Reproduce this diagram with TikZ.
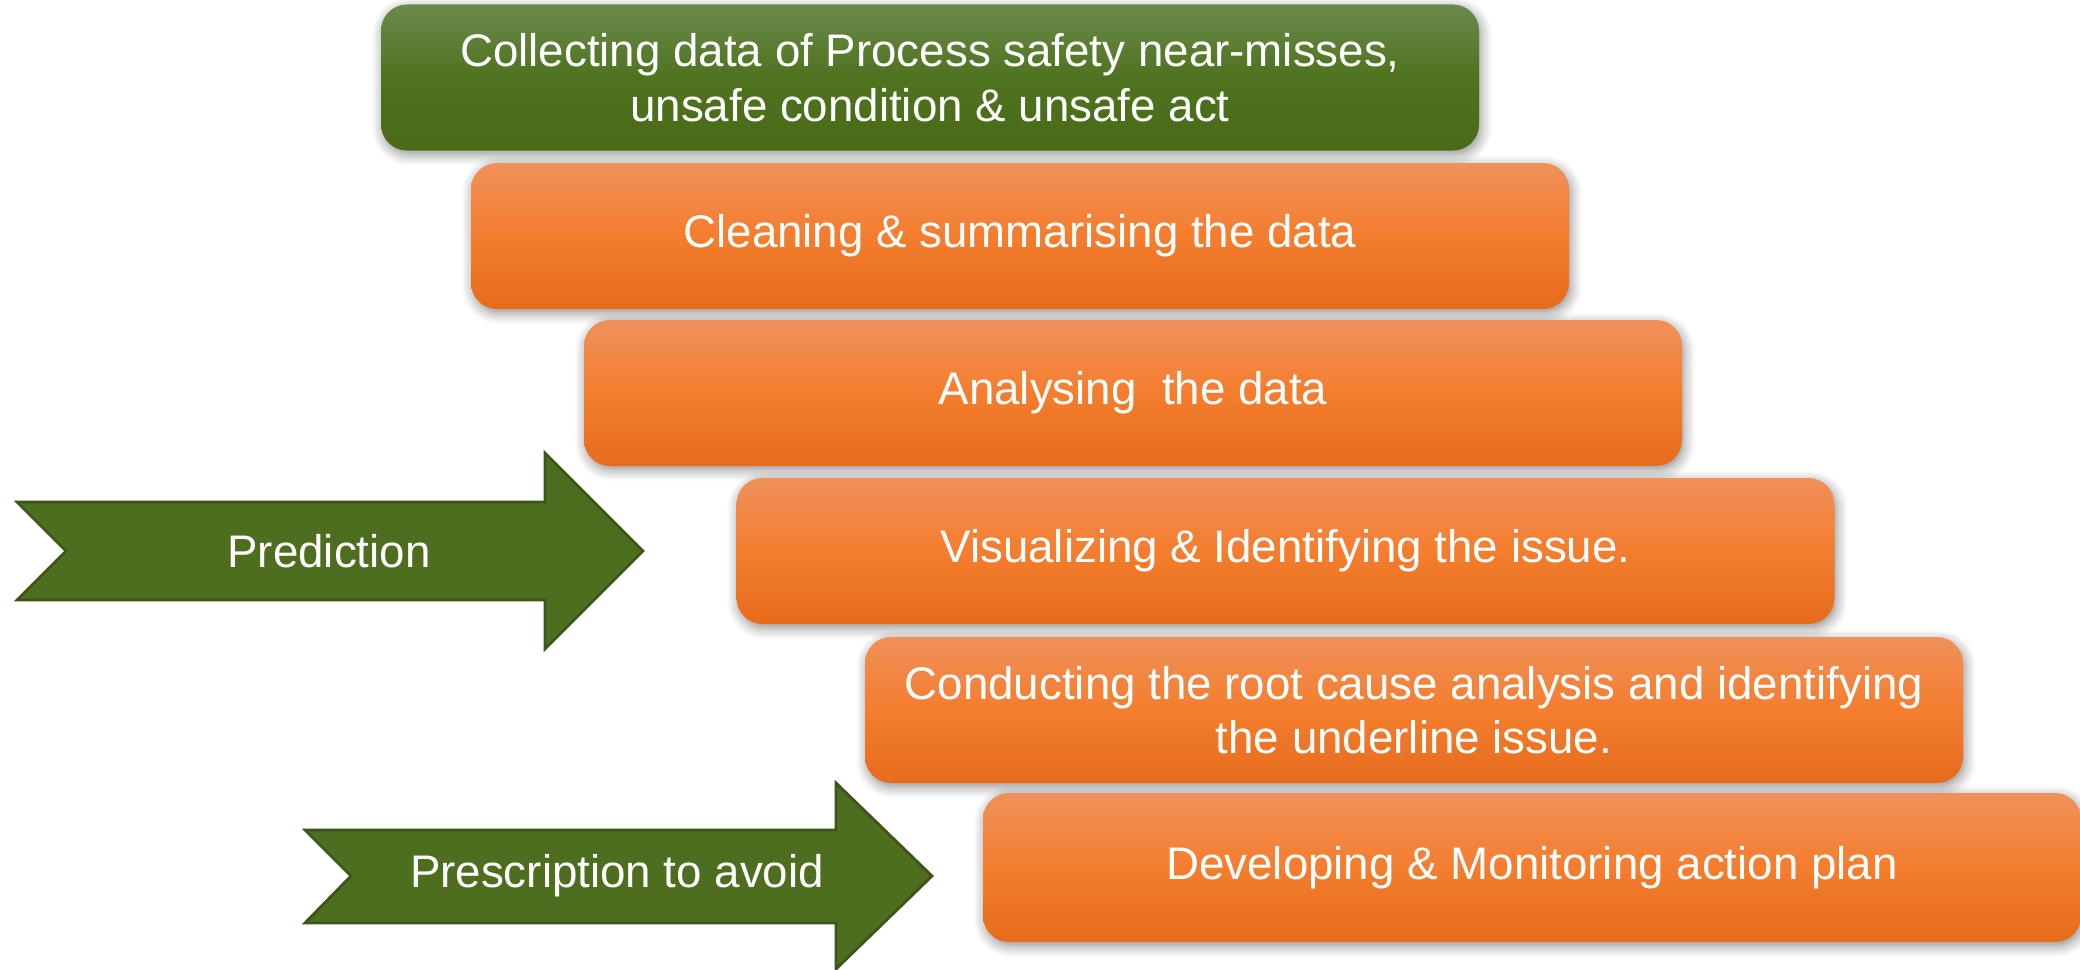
\documentclass[tikz,border=0pt]{standalone}
\usepackage{fontspec}
\setmainfont{Liberation Sans}
\usetikzlibrary{shadows.blur}
\definecolor{orTop}{HTML}{F0915A}
\definecolor{orMid}{HTML}{F47D2E}
\definecolor{orBot}{HTML}{E66C1C}
\definecolor{grTop}{HTML}{6B8A4B}
\definecolor{grMid}{HTML}{4E731F}
\definecolor{grBot}{HTML}{4A6A17}
\definecolor{arrGreen}{HTML}{4E6E1F}
\definecolor{arrEdge}{HTML}{3C5518}

\begin{document}
\begin{tikzpicture}[
    stepbox/.style={rounded corners=0.26cm, minimum width=10.98cm, minimum height=1.46cm,
      align=center, text=white, font=\fontsize{13}{15.5}\selectfont,
      blur shadow={shadow xshift=0.02cm, shadow yshift=-0.04cm, shadow blur steps=6,
        shadow blur radius=0.6ex, shadow opacity=45},
      top color=orTop, bottom color=orBot, middle color=orMid},
    firstbox/.style={stepbox, top color=grTop, bottom color=grBot, middle color=grMid},
    arrowlabel/.style={text=white, font=\fontsize{13}{15.5}\selectfont},
    bigarrow/.style={fill=arrGreen, draw=arrEdge, line width=0.8pt}
  ]
      \useasboundingbox (0,0) rectangle (20.8,-9.7);

      % the steps
      \node[firstbox] (collect) at (9.30,-0.775) {Collecting data of Process safety near-misses,\\unsafe condition \& unsafe act};
      \node[stepbox] (clean) at (10.20,-2.36) {Cleaning \& summarising the data};
      \node[stepbox] (analyse) at (11.33,-3.93) {Analysing~ the data};
      \node[stepbox] (visual) at (12.855,-5.51) {Visualizing \& Identifying the issue.};
      \node[stepbox] (rootcause) at (14.14,-7.10) {Conducting the root cause analysis and identifying\\the underline issue.};
      \node[stepbox, minimum height=1.49cm] (action) at (15.32,-8.675) {Developing \& Monitoring action plan};

      % the two arrows
      \draw[bigarrow] (0.17,-5.02) -- (5.45,-5.02) -- (5.45,-4.53) -- (6.43,-5.51)
        -- (5.45,-6.49) -- (5.45,-6.00) -- (0.17,-6.00) -- (0.66,-5.51) -- cycle;
      \node[arrowlabel] (predict) at (3.29,-5.51) {Prediction};

      \draw[bigarrow] (3.05,-8.30) -- (8.36,-8.30) -- (8.36,-7.83) -- (9.32,-8.76)
        -- (8.36,-9.69) -- (8.36,-9.23) -- (3.05,-9.23) -- (3.51,-8.76) -- cycle;
      \node[arrowlabel] (prescribe) at (6.17,-8.76) {Prescription to avoid};
    \end{tikzpicture}
\end{document}
